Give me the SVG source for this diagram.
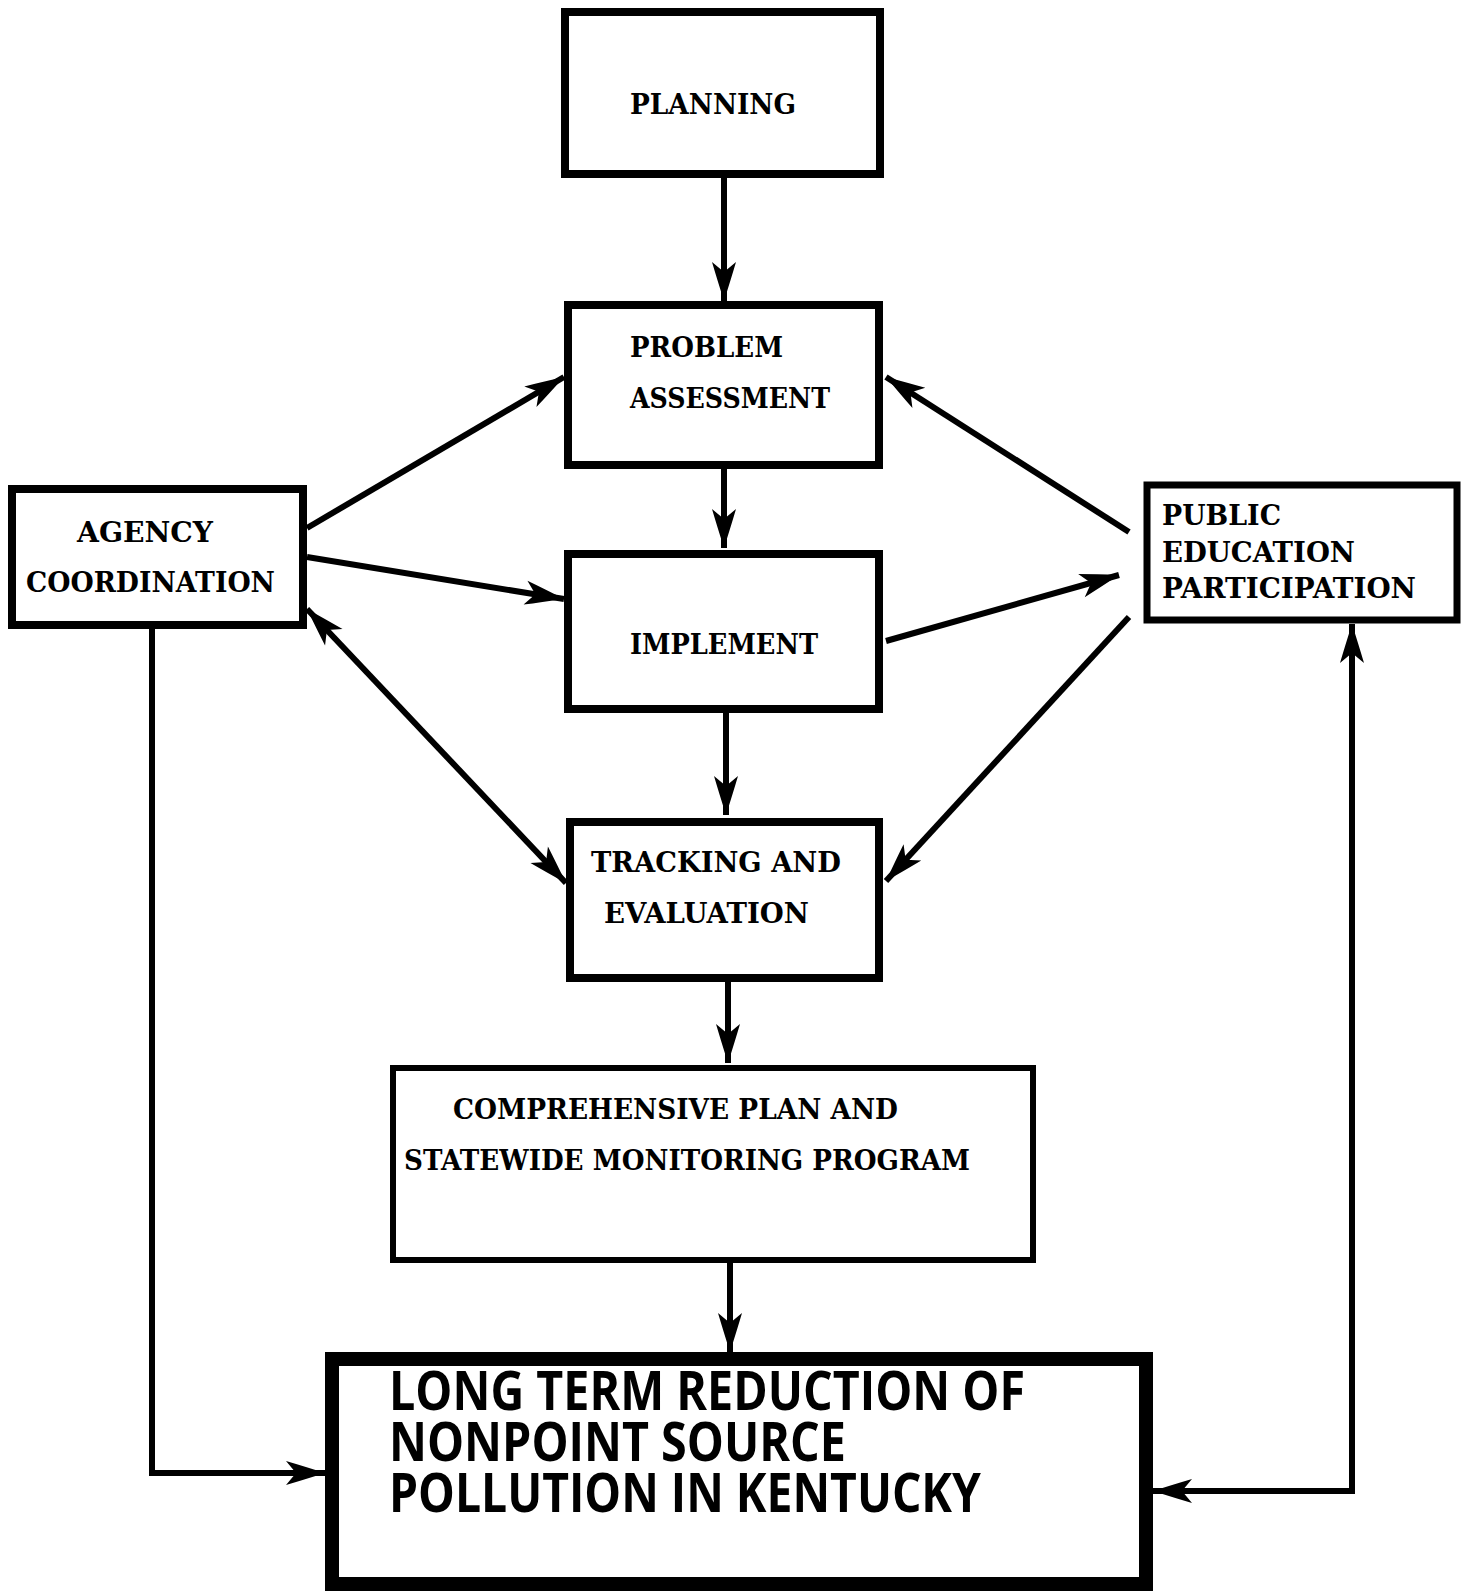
<svg xmlns="http://www.w3.org/2000/svg" width="1469" height="1591" viewBox="0 0 1469 1591">
<style>
.box{fill:#fff;stroke:#000;stroke-width:8}
.t{font-family:"DejaVu Serif","Liberation Serif",serif;font-weight:bold;font-size:27px;fill:#000}
.big{font-family:"Open Sans","Noto Sans","Liberation Sans",sans-serif;font-weight:bold;font-size:54px;fill:#000}
.c{fill:none;stroke:#000;stroke-width:6}
</style>
<defs>
<marker id="ah" markerUnits="userSpaceOnUse" markerWidth="50" markerHeight="30" refX="44" refY="13" orient="auto-start-reverse" overflow="visible">
<path d="M44,13 Q22,6 5,1 L15,13 L5,25 Q22,20 44,13 Z" fill="#000"/>
</marker>
</defs>
<rect width="1469" height="1591" fill="#fff"/>

<g id="connectors">
<path class="c" d="M724,178 V301" marker-end="url(#ah)"/>
<path class="c" d="M724,469 V548" marker-end="url(#ah)"/>
<path class="c" d="M726,713 V815" marker-end="url(#ah)"/>
<path class="c" d="M728,982 V1063" marker-end="url(#ah)"/>
<path class="c" d="M730,1244 V1352" marker-end="url(#ah)"/>
<path class="c" d="M307,528 L564,377" marker-end="url(#ah)"/>
<path class="c" d="M307,557 L564,599" marker-end="url(#ah)"/>
<path class="c" d="M307,609 L566,883" marker-start="url(#ah)" marker-end="url(#ah)"/>
<path class="c" d="M886,641 L1119,575" marker-end="url(#ah)"/>
<path class="c" d="M1129,532 L886,377" marker-end="url(#ah)"/>
<path class="c" d="M1129,617 L886,881" marker-end="url(#ah)"/>
<path class="c" d="M152,629 V1473 H325" marker-end="url(#ah)"/>
<path class="c" d="M1153,1491 H1352 V624" marker-start="url(#ah)" marker-end="url(#ah)"/>
</g>

<g id="planning">
<rect class="box" x="565" y="12" width="315" height="162"/>
<text class="t" x="630" y="114" textLength="166" lengthAdjust="spacingAndGlyphs">PLANNING</text>
</g>
<g id="problem-assessment">
<rect class="box" x="568" y="305" width="311" height="160"/>
<text class="t" x="630" y="357" textLength="153" lengthAdjust="spacingAndGlyphs">PROBLEM</text>
<text class="t" x="630" y="408" textLength="200" lengthAdjust="spacingAndGlyphs">ASSESSMENT</text>
</g>
<g id="implement">
<rect class="box" x="568" y="554" width="311" height="155"/>
<text class="t" x="630" y="654" textLength="188" lengthAdjust="spacingAndGlyphs">IMPLEMENT</text>
</g>
<g id="tracking">
<rect class="box" x="570" y="822" width="309" height="156"/>
<text class="t" x="591" y="872" textLength="250" lengthAdjust="spacingAndGlyphs">TRACKING AND</text>
<text class="t" x="604" y="923" textLength="205" lengthAdjust="spacingAndGlyphs">EVALUATION</text>
</g>
<g id="comprehensive">
<rect class="box" x="393" y="1068" width="640" height="192" style="stroke-width:6"/>
<text class="t" x="453" y="1119" textLength="445" lengthAdjust="spacingAndGlyphs">COMPREHENSIVE PLAN AND</text>
<text class="t" x="404" y="1170" textLength="566" lengthAdjust="spacingAndGlyphs">STATEWIDE MONITORING PROGRAM</text>
</g>
<g id="agency">
<rect class="box" x="12" y="489" width="291" height="136"/>
<text class="t" x="77" y="542" textLength="136" lengthAdjust="spacingAndGlyphs">AGENCY</text>
<text class="t" x="26" y="592" textLength="249" lengthAdjust="spacingAndGlyphs">COORDINATION</text>
</g>
<g id="public">
<rect class="box" x="1147" y="485" width="310" height="135" style="stroke-width:7"/>
<text class="t" x="1162" y="525" textLength="119" lengthAdjust="spacingAndGlyphs">PUBLIC</text>
<text class="t" x="1162" y="562" textLength="193" lengthAdjust="spacingAndGlyphs">EDUCATION</text>
<text class="t" x="1162" y="598" textLength="254" lengthAdjust="spacingAndGlyphs">PARTICIPATION</text>
</g>
<g id="long-term">
<rect class="box" x="332" y="1359" width="814" height="225" style="stroke-width:14"/>
<text class="big"><tspan x="389" y="1410" textLength="636" lengthAdjust="spacingAndGlyphs">LONG TERM REDUCTION OF</tspan><tspan x="389" y="1461" textLength="457" lengthAdjust="spacingAndGlyphs">NONPOINT SOURCE</tspan><tspan x="389" y="1512" textLength="592" lengthAdjust="spacingAndGlyphs">POLLUTION IN KENTUCKY</tspan></text>
</g>
</svg>
